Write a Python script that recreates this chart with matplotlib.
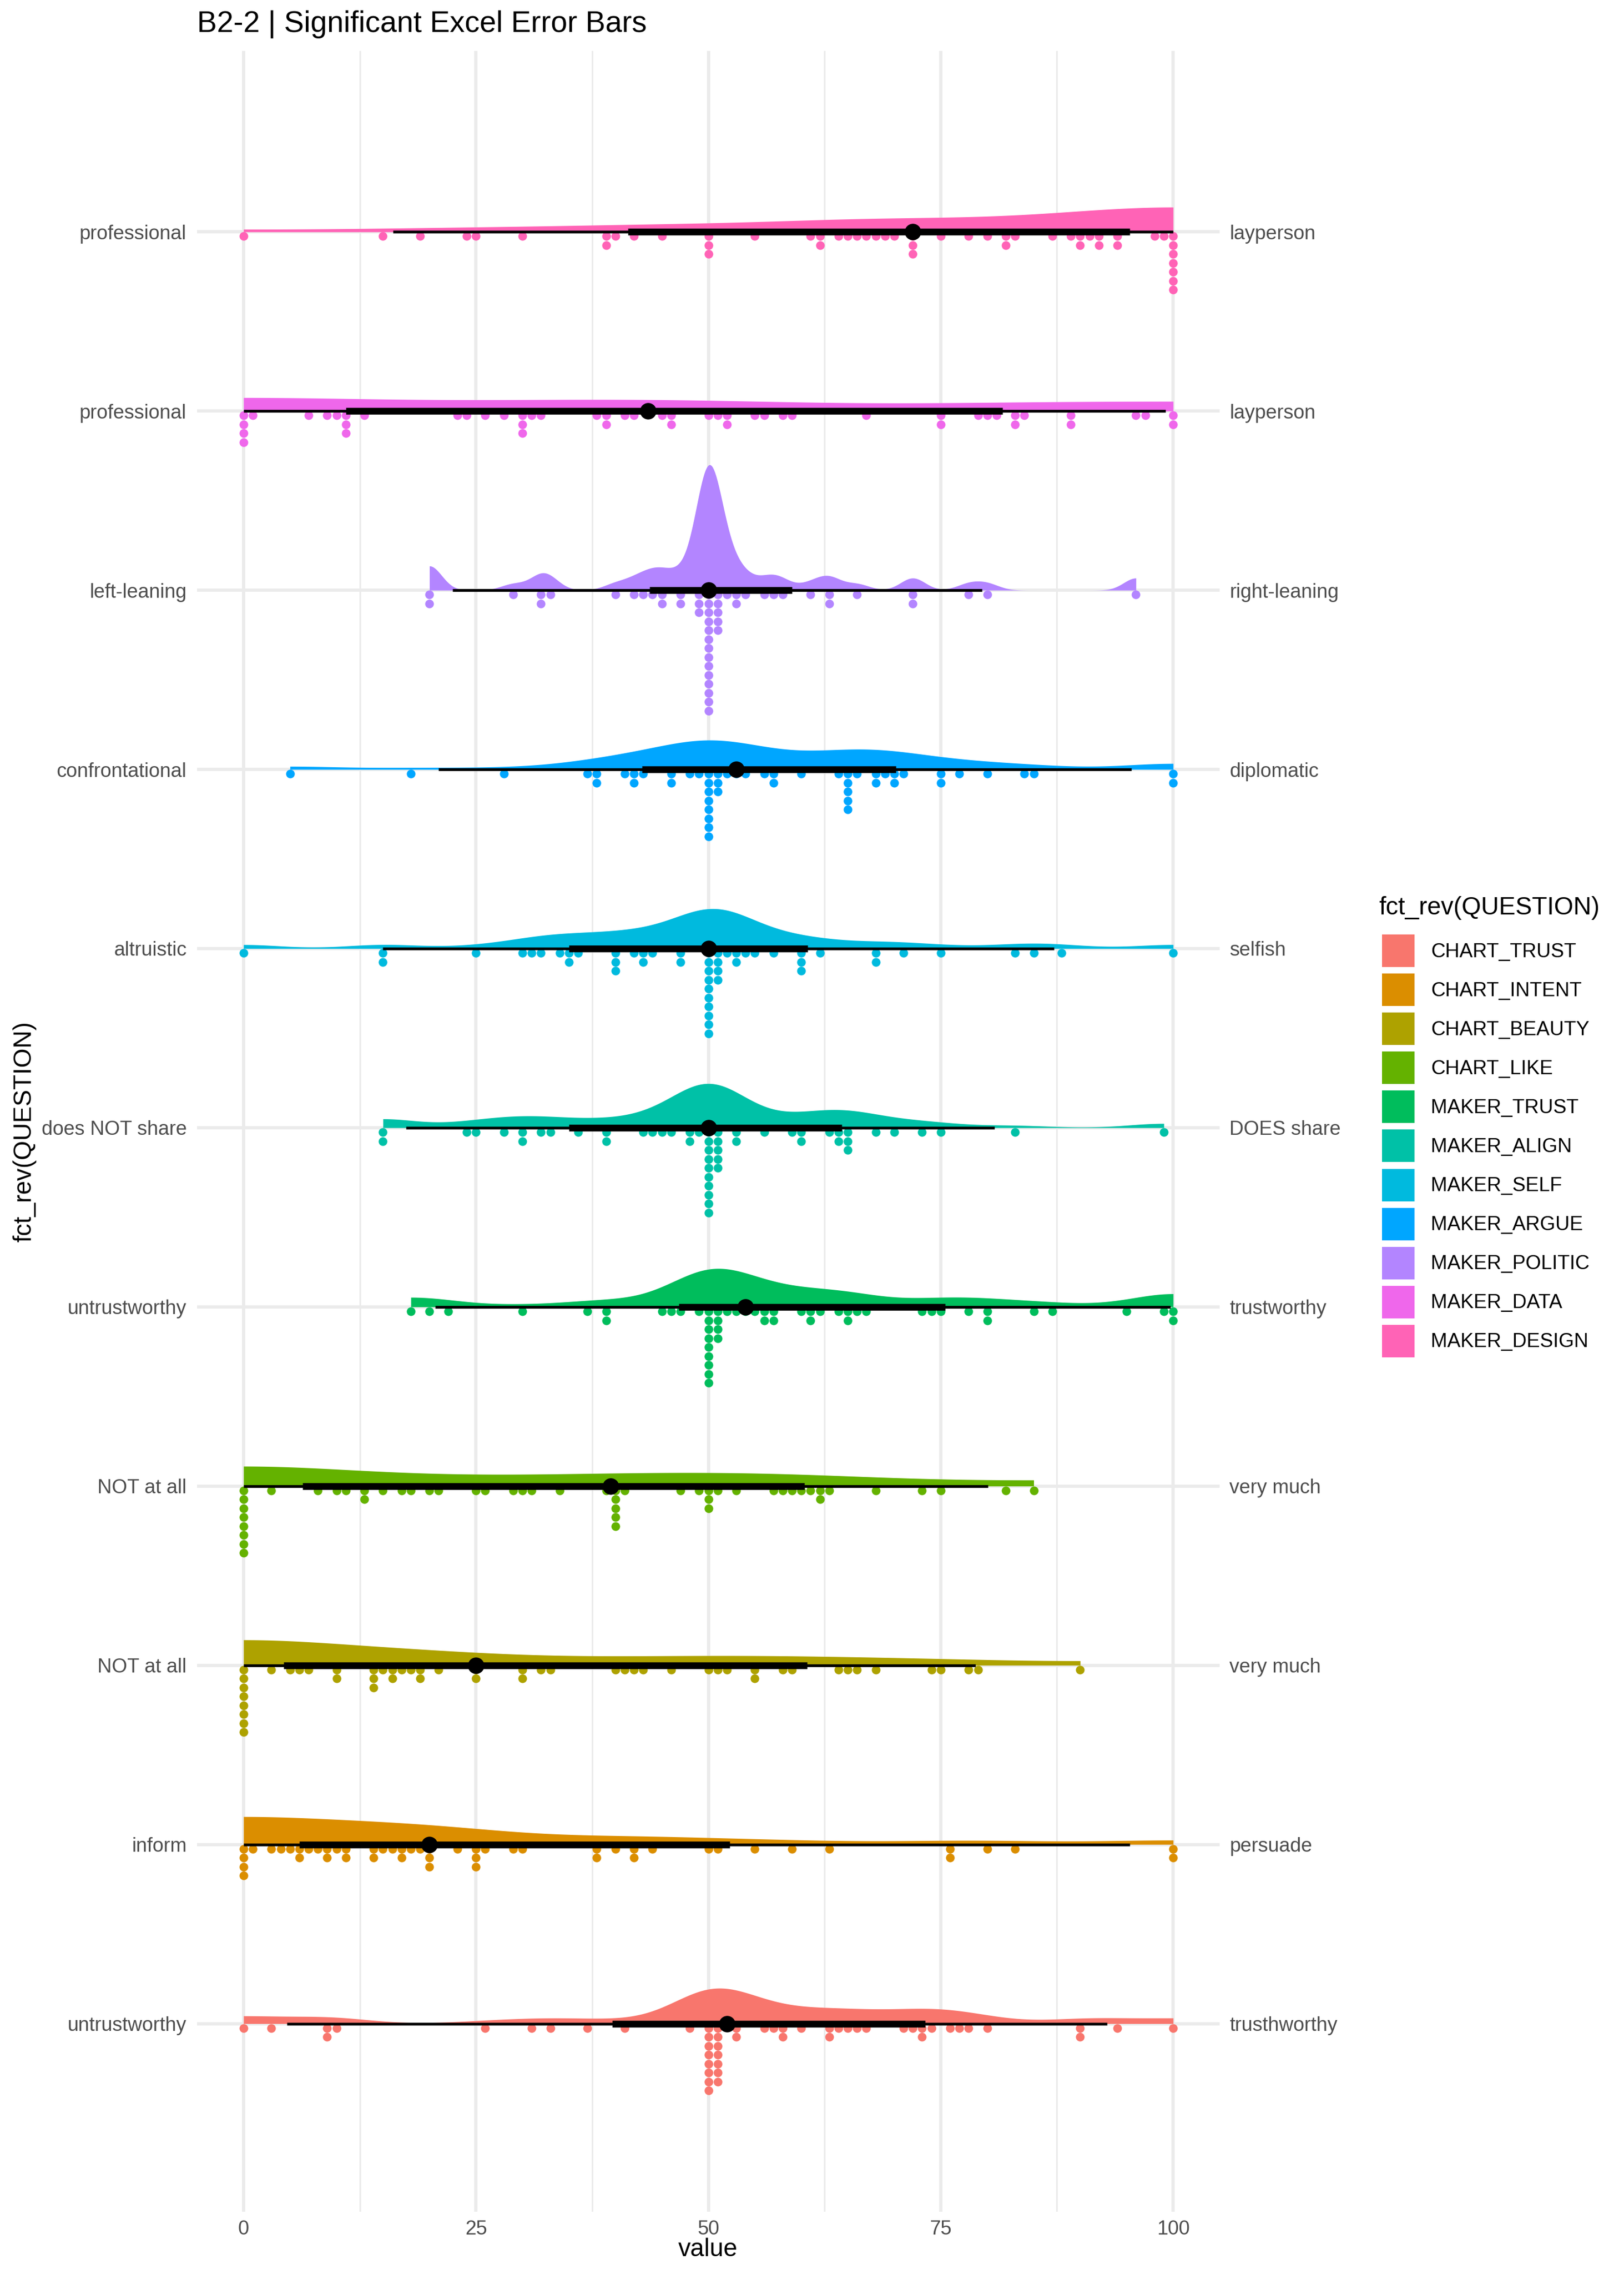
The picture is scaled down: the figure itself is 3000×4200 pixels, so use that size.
import numpy as np
import matplotlib
matplotlib.use("Agg")
import matplotlib.pyplot as plt
from matplotlib.patches import Patch

plt.rcParams['font.family'] = ['Liberation Sans', 'DejaVu Sans']

### rows from bottom (y=1) to top (y=11)
questions = ["CHART_TRUST", "CHART_INTENT", "CHART_BEAUTY", "CHART_LIKE", "MAKER_TRUST",
             "MAKER_ALIGN", "MAKER_SELF", "MAKER_ARGUE", "MAKER_POLITIC", "MAKER_DATA", "MAKER_DESIGN"]
left_labels = ["untrustworthy", "inform", "NOT at all", "NOT at all", "untrustworthy",
               "does NOT share", "altruistic", "confrontational", "left-leaning", "professional", "professional"]
right_labels = ["trusthworthy", "persuade", "very much", "very much", "trustworthy",
                "DOES share", "selfish", "diplomatic", "right-leaning", "layperson", "layperson"]
colors = ["#F8766D", "#DB8E00", "#AEA200", "#64B200", "#00BD5C",
          "#00C1A7", "#00BADE", "#00A6FF", "#B385FF", "#EF67EB", "#FF63B6"]

### responses: value -> number of respondents
chart_trust_vals = [0, 3, 9, 10, 26, 31, 33, 37, 41, 48, 50, 51, 53, 56, 57, 58, 60, 63, 64, 65, 66, 67, 71, 72, 73, 74, 76, 77, 78, 80, 90, 94, 100]
chart_trust_cnts = [1, 1, 2, 1, 1, 1, 1, 1, 1, 1, 8, 7, 2, 1, 1, 2, 1, 2, 1, 1, 1, 1, 1, 1, 2, 1, 1, 1, 1, 1, 2, 1, 1]
chart_intent_vals = [0, 1, 3, 4, 5, 6, 7, 8, 9, 10, 11, 14, 15, 16, 17, 18, 19, 20, 23, 25, 26, 29, 30, 38, 40, 42, 44, 50, 51, 55, 59, 63, 76, 80, 83, 100]
chart_intent_cnts = [4, 1, 1, 1, 1, 2, 1, 1, 2, 1, 2, 2, 1, 1, 2, 1, 1, 3, 1, 3, 1, 1, 1, 2, 1, 2, 1, 1, 1, 1, 1, 1, 2, 1, 1, 2]
chart_beauty_vals = [0, 3, 5, 6, 7, 10, 14, 15, 16, 17, 18, 19, 21, 25, 30, 32, 33, 40, 41, 42, 43, 46, 50, 51, 52, 55, 58, 59, 64, 65, 66, 68, 74, 75, 78, 79, 90]
chart_beauty_cnts = [8, 1, 1, 1, 1, 2, 3, 1, 2, 1, 1, 2, 1, 2, 2, 1, 1, 1, 1, 1, 1, 1, 1, 1, 1, 2, 1, 1, 1, 1, 1, 1, 1, 1, 1, 1, 1]
chart_like_vals = [0, 3, 8, 10, 11, 13, 15, 17, 18, 20, 21, 25, 26, 29, 30, 31, 34, 39, 40, 41, 47, 49, 50, 51, 53, 57, 58, 59, 60, 61, 62, 63, 68, 73, 75, 82, 85]
chart_like_cnts = [8, 1, 1, 1, 1, 2, 1, 1, 1, 1, 1, 1, 1, 1, 1, 1, 1, 1, 5, 1, 1, 1, 3, 1, 1, 1, 1, 1, 1, 1, 2, 1, 1, 1, 1, 1, 1]
maker_trust_vals = [18, 20, 22, 30, 37, 39, 45, 46, 47, 49, 50, 51, 52, 53, 54, 55, 56, 57, 60, 61, 62, 64, 65, 66, 67, 73, 74, 75, 78, 80, 85, 87, 95, 99, 100]
maker_trust_cnts = [1, 1, 1, 1, 1, 2, 1, 1, 1, 1, 9, 4, 1, 1, 1, 1, 2, 2, 1, 2, 1, 1, 2, 1, 1, 1, 1, 1, 1, 2, 1, 1, 1, 1, 2]
maker_align_vals = [15, 24, 25, 28, 30, 32, 33, 36, 39, 43, 44, 45, 46, 48, 49, 50, 51, 53, 56, 59, 60, 63, 64, 65, 68, 70, 73, 75, 83, 99]
maker_align_cnts = [2, 1, 1, 1, 2, 1, 1, 1, 2, 1, 1, 1, 1, 2, 1, 10, 5, 2, 1, 1, 2, 1, 2, 3, 1, 1, 1, 1, 1, 1]
maker_self_vals = [0, 15, 25, 30, 31, 32, 34, 35, 36, 40, 42, 43, 44, 47, 50, 51, 52, 53, 54, 55, 57, 60, 62, 68, 71, 75, 83, 85, 88, 100]
maker_self_cnts = [1, 2, 1, 1, 1, 1, 1, 2, 1, 3, 1, 2, 1, 2, 10, 4, 1, 2, 1, 1, 1, 3, 1, 2, 1, 1, 1, 1, 1, 1]
maker_argue_vals = [5, 18, 28, 37, 38, 41, 42, 43, 46, 48, 49, 50, 51, 52, 53, 54, 56, 57, 60, 64, 65, 66, 68, 69, 70, 71, 75, 77, 80, 84, 85, 100]
maker_argue_cnts = [1, 1, 1, 1, 2, 1, 2, 1, 2, 1, 1, 8, 3, 1, 1, 1, 1, 2, 1, 1, 5, 1, 2, 1, 2, 1, 2, 1, 1, 1, 1, 2]
maker_politic_vals = [20, 29, 32, 33, 40, 42, 43, 44, 45, 47, 49, 50, 51, 52, 53, 54, 56, 57, 58, 61, 63, 66, 72, 78, 80, 96]
maker_politic_cnts = [2, 1, 2, 1, 1, 1, 1, 1, 2, 2, 3, 14, 5, 1, 2, 1, 1, 1, 1, 1, 2, 1, 2, 1, 1, 1]
maker_data_vals = [0, 1, 7, 9, 10, 11, 13, 23, 24, 26, 28, 30, 31, 32, 38, 39, 41, 42, 45, 46, 50, 51, 52, 55, 56, 58, 59, 67, 75, 79, 80, 81, 83, 84, 89, 96, 97, 100]
maker_data_cnts = [4, 1, 1, 1, 1, 3, 1, 1, 1, 1, 1, 3, 1, 1, 1, 2, 1, 1, 1, 2, 1, 1, 2, 1, 1, 1, 1, 1, 2, 1, 1, 1, 2, 1, 2, 1, 1, 2]
maker_design_vals = [0, 15, 19, 24, 25, 30, 39, 40, 42, 45, 50, 55, 61, 62, 64, 65, 66, 67, 68, 69, 70, 72, 75, 78, 80, 82, 83, 87, 89, 90, 91, 92, 94, 98, 99, 100]
maker_design_cnts = [1, 1, 1, 1, 1, 1, 2, 1, 1, 1, 3, 1, 1, 2, 1, 1, 1, 1, 1, 1, 1, 3, 1, 1, 1, 2, 1, 1, 1, 2, 1, 2, 2, 1, 1, 7]

all_vals = [chart_trust_vals, chart_intent_vals, chart_beauty_vals, chart_like_vals, maker_trust_vals,
            maker_align_vals, maker_self_vals, maker_argue_vals, maker_politic_vals, maker_data_vals, maker_design_vals]
all_cnts = [chart_trust_cnts, chart_intent_cnts, chart_beauty_cnts, chart_like_cnts, maker_trust_cnts,
            maker_align_cnts, maker_self_cnts, maker_argue_cnts, maker_politic_cnts, maker_data_cnts, maker_design_cnts]


### Sheather-Jones "dpi" bandwidth (as R's bw.SJ(method="dpi"), without binning)
def _phi4(x, h):
    n = len(x)
    d = ((x[:, None] - x[None, :]) / h) ** 2
    s = np.sum(np.exp(-d / 2) * (d * d - 6 * d + 3))
    return s / (n * (n - 1) * h ** 5 * np.sqrt(2 * np.pi))

def _phi6(x, h):
    n = len(x)
    d = ((x[:, None] - x[None, :]) / h) ** 2
    s = np.sum(np.exp(-d / 2) * (d ** 3 - 15 * d * d + 45 * d - 15))
    return s / (n * (n - 1) * h ** 7 * np.sqrt(2 * np.pi))

def bw_dpi(x):
    n = len(x)
    q1, q3 = np.quantile(x, [0.25, 0.75])
    scale = min(np.std(x, ddof=1), (q3 - q1) / 1.349)
    b = 1.23 * scale * n ** (-1 / 9)
    c1 = 1 / (2 * np.sqrt(np.pi) * n)
    td = -_phi6(x, b)
    return (c1 / _phi4(x, (2.394 / (n * td)) ** (1 / 7))) ** (1 / 5)

def density_bounded(x, grid):
    h = bw_dpi(x)
    lo, hi = x.min(), x.max()
    k = lambda c: np.exp(-0.5 * ((grid[:, None] - c[None, :]) / h) ** 2).sum(axis=1)
    return (k(x) + k(2 * lo - x) + k(2 * hi - x)) / (len(x) * h * np.sqrt(2 * np.pi))


fig = plt.figure(figsize=(10, 14), dpi=300)
ax = fig.add_axes([364 / 3000, 1 - 4085 / 4200, 1889 / 3000, 3991 / 4200])
ax.set_xlim(-5, 105)
ax.set_ylim(-0.05, 12.01)

rows = np.arange(1, len(questions) + 1)
slab_scale = 0.70
dot_step = 16.5 / 331.0

# densities first, so every slab can be scaled against the tallest one
slabs = []
for vals, cnts in zip(all_vals, all_cnts):
    x = np.repeat(np.array(vals, float), cnts)
    grid = np.linspace(x.min(), x.max(), 600)
    slabs.append((x, grid, density_bounded(x, grid)))
dmax = max(s[2].max() for s in slabs)

for y, (x, grid, dens), col in zip(rows, slabs, colors):
    ax.fill_between(grid, y, y + dens / dmax * slab_scale, color=col, lw=0, zorder=2)

    # dots, stacked downwards from the baseline
    v, c = np.unique(x, return_counts=True)
    dx = np.repeat(v, c)
    dy = np.concatenate([y - (np.arange(k) + 0.5) * dot_step for k in c])
    ax.plot(dx, dy, 'o', ms=3.85, color=col, mec='none', zorder=3)

    # median with 66% / 95% intervals
    q = np.quantile(x, [0.025, 0.17, 0.5, 0.83, 0.975])
    ax.plot([q[0], q[4]], [y, y], color='black', lw=1.25, solid_capstyle='butt', zorder=4)
    ax.plot([q[1], q[3]], [y, y], color='black', lw=3.0, solid_capstyle='butt', zorder=5)
    ax.plot(q[2], y, 'o', ms=7.3, color='black', mec='none', zorder=6)

# grid like theme_minimal
for gx in [0, 25, 50, 75, 100]:
    ax.axvline(gx, color='#EBEBEB', lw=1.42, zorder=0)
for gx in [12.5, 37.5, 62.5, 87.5]:
    ax.axvline(gx, color='#EBEBEB', lw=0.71, zorder=0)
for y in rows:
    ax.axhline(y, color='#EBEBEB', lw=1.42, zorder=0)

for s in ax.spines.values():
    s.set_visible(False)
ax.set_xticks([0, 25, 50, 75, 100])
ax.set_xticklabels(["0", "25", "50", "75", "100"])
ax.set_yticks(rows)
ax.set_yticklabels(left_labels)
ax.tick_params(axis='x', length=0, pad=3.6, labelsize=8.8, labelcolor='#4D4D4D')
ax.tick_params(axis='y', length=0, pad=4.6, labelsize=8.8, labelcolor='#4D4D4D')

ax2 = ax.twinx()
ax2.set_ylim(ax.get_ylim())
ax2.set_yticks(rows)
ax2.set_yticklabels(right_labels)
ax2.tick_params(axis='y', length=0, pad=4.4, labelsize=8.8, labelcolor='#4D4D4D')
for s in ax2.spines.values():
    s.set_visible(False)

fig.text(364 / 3000, 1 - 45 / 4200, "B2-2 | Significant Excel Error Bars", fontsize=13.2, va='center', ha='left')
fig.text(1308 / 3000, 1 - 4155 / 4200, "value", fontsize=11, ha='center', va='center')
fig.text(45 / 3000, 1 - 2090 / 4200, "fct_rev(QUESTION)", fontsize=11, rotation=90, ha='center', va='center')

# legend: title as its own text, keys 60 px square on a 72 px pitch
fig.text(2547 / 3000, 1 - 1677 / 4200, "fct_rev(QUESTION)", fontsize=11, ha='left', va='center')
handles = [Patch(facecolor=c, edgecolor='none') for c in colors]
leg = fig.legend(handles, questions, loc='upper left', bbox_to_anchor=(2553 / 3000, 1 - 1726 / 4200),
                 frameon=False, fontsize=8.8, handlelength=1.64, handleheight=2.14,
                 labelspacing=0.33, handletextpad=0.82, borderpad=0, borderaxespad=0)

fig.savefig("out.png", dpi=300)
